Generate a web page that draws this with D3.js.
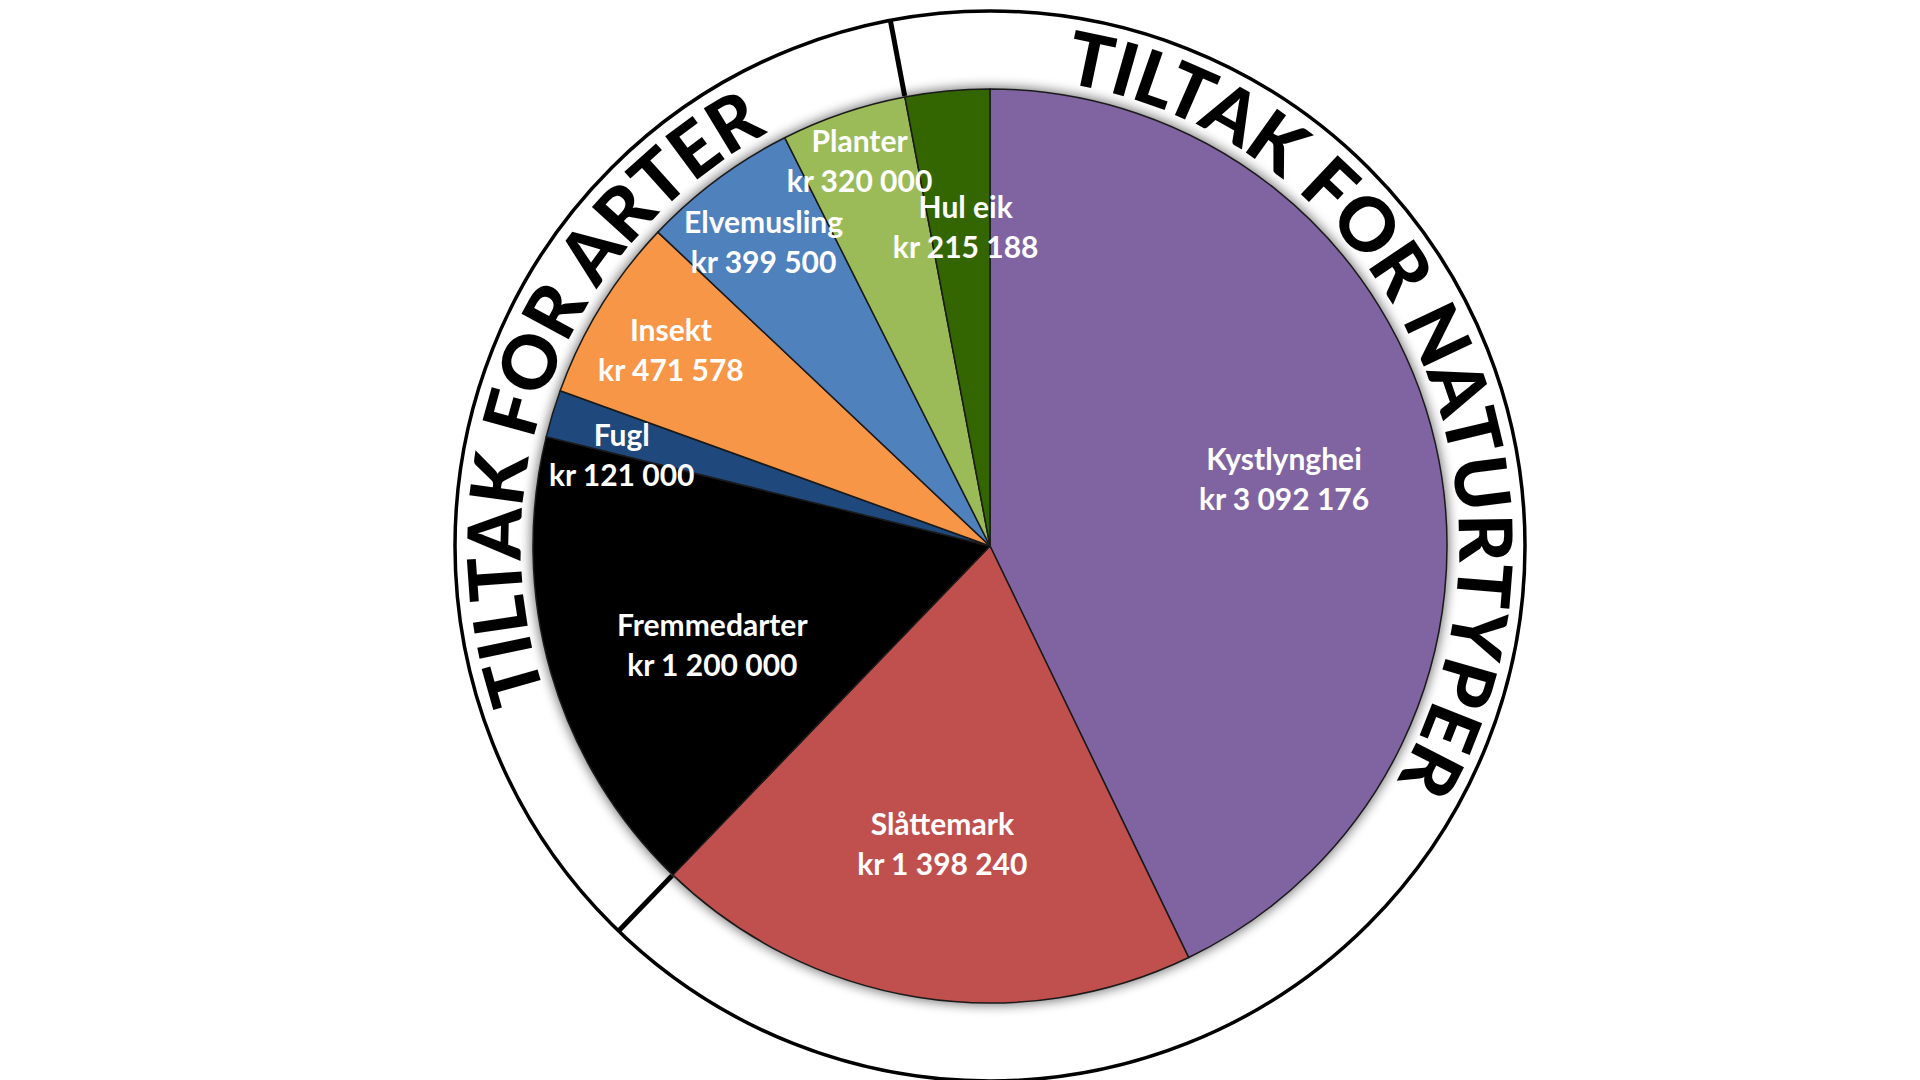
<!DOCTYPE html>
<html>
<head>
<meta charset="utf-8">
<script src="https://cdnjs.cloudflare.com/ajax/libs/d3/7.8.5/d3.min.js"></script>
<style>
    body { margin: 0; background: #ffffff; }
    #chart svg { display: block; }
    .slice-label { font-family: Lato, "Open Sans", sans-serif; font-weight: bold; fill: #ffffff; }
    .ring-title { font-family: Lato, "Open Sans", sans-serif; font-weight: 900; fill: #000000; }
</style>
</head>
<body>
<div id="chart"></div>
<script>

// data (clockwise from 12 o'clock)
var categories = ["Kystlynghei", "Slåttemark", "Fremmedarter", "Fugl", "Insekt", "Elvemusling", "Planter", "Hul eik"];
var amounts = [3092176, 1398240, 1200000, 121000, 471578, 399500, 320000, 215188];
var groups = ["Naturtyper", "Naturtyper", "Arter", "Arter", "Arter", "Arter", "Arter", "Naturtyper"];

var titleGroups = ["Naturtyper", "Arter"];
var titleTexts = ["TILTAK FOR NATURTYPER", "TILTAK FOR ARTER"];


PieChart = function(_parentElement, _categories, _amounts, _groups) {
    this.parentElement = _parentElement;
    this.data = _categories.map(function(c, i) {
        return { name: c, value: _amounts[i], group: _groups[i] };
    });
    this.initVis();
};

PieChart.prototype.initVis = function() {
    var vis = this;

    vis.w = 1920;
    vis.h = 1080;
    vis.cx = 990;
    vis.cy = 546;
    vis.radius = 457;
    vis.ringRadius = 535;
    vis.titleRadius = 469;

    vis.root = d3.select("#" + vis.parentElement).append("svg")
        .attr("width", vis.w)
        .attr("height", vis.h);

    vis.svg = vis.root.append("g")
        .attr("transform", "translate(" + vis.cx + "," + vis.cy + ")");

    // soft glow round the pie
    var defs = vis.root.append("defs");
    defs.append("filter")
        .attr("id", "pieGlow")
        .attr("x", "-20%").attr("y", "-20%")
        .attr("width", "140%").attr("height", "140%")
        .append("feGaussianBlur")
        .attr("stdDeviation", 6);

    // Office 2010 palette, same order as the categories
    vis.color = d3.scaleOrdinal()
        .domain(categories)
        .range(["#8064A2", "#C0504D", "#000000", "#1F497D", "#F79646", "#4F81BD", "#9BBB59", "#336600"]);

    vis.pie = d3.pie().sort(null).value(function(d) { return d.value; });
    vis.arc = d3.arc().innerRadius(0).outerRadius(vis.radius);

    // norwegian money: kr 3 092 176
    var nb = d3.formatLocale({ decimal: ",", thousands: " ", grouping: [3], currency: ["kr ", ""] });
    vis.formatKr = nb.format("$,");

    // how far out each label sits (fraction of radius) and a small angle nudge in degrees
    vis.labelRadius = [0.66, 0.66, 0.645, 0.83, 0.82, 0.83, 0.89, 0.70];
    vis.labelNudge = [0, 0, -3.5, -3, 0, 0, 0, 1];

    // where the ring titles are centred, degrees clockwise from top
    vis.titleAngles = [64.5, 291.5];

    vis.wrangleData();
};

PieChart.prototype.wrangleData = function() {
    var vis = this;

    vis.displayData = vis.pie(vis.data);

    // dividers go where the group changes between two neighbouring slices
    vis.dividers = [];
    vis.displayData.forEach(function(d, i) {
        var next = vis.displayData[(i + 1) % vis.displayData.length];
        if (d.data.group !== next.data.group) {
            vis.dividers.push(d.endAngle);
        }
    });

    vis.drawDiagram();
};

PieChart.prototype.drawDiagram = function() {
    var vis = this;

    // outer ring
    vis.svg.append("circle")
        .attr("r", vis.ringRadius)
        .attr("fill", "none")
        .attr("stroke", "#000")
        .attr("stroke-width", 3.5);

    vis.svg.append("circle")
        .attr("r", vis.radius + 2)
        .attr("fill", "#000")
        .attr("opacity", 0.55)
        .attr("filter", "url(#pieGlow)");

    vis.svg.selectAll(".slice")
        .data(vis.displayData)
        .enter().append("path")
        .attr("class", "slice")
        .attr("d", vis.arc)
        .attr("fill", function(d) { return vis.color(d.data.name); })
        .attr("stroke", "#1a1a1a")
        .attr("stroke-width", 1.5)
        .attr("stroke-linejoin", "round");

    vis.svg.selectAll(".divider")
        .data(vis.dividers)
        .enter().append("line")
        .attr("class", "divider")
        .attr("x1", function(a) { return (vis.radius + 1) * Math.sin(a); })
        .attr("y1", function(a) { return -(vis.radius + 1) * Math.cos(a); })
        .attr("x2", function(a) { return vis.ringRadius * Math.sin(a); })
        .attr("y2", function(a) { return -vis.ringRadius * Math.cos(a); })
        .attr("stroke", "#000")
        .attr("stroke-width", 5);

    // labels
    var labels = vis.svg.selectAll(".label")
        .data(vis.displayData)
        .enter().append("g")
        .attr("class", "label")
        .attr("transform", function(d, i) {
            var a = (d.startAngle + d.endAngle) / 2 + vis.labelNudge[i] * Math.PI / 180;
            var r = vis.radius * vis.labelRadius[i];
            return "translate(" + (r * Math.sin(a)) + "," + (-r * Math.cos(a)) + ")";
        });

    labels.append("text")
        .attr("class", "slice-label")
        .attr("text-anchor", "middle")
        .attr("dominant-baseline", "central")
        .attr("y", -21)
        .style("font-size", "30px")
        .text(function(d) { return d.data.name; });

    labels.append("text")
        .attr("class", "slice-label")
        .attr("text-anchor", "middle")
        .attr("dominant-baseline", "central")
        .attr("y", 19)
        .style("font-size", "30px")
        .text(function(d) { return vis.formatKr(d.data.value); });

    // ring titles on a clockwise circle starting at 12 o'clock
    var r = vis.titleRadius;
    vis.root.select("defs").append("path")
        .attr("id", "titleCircle")
        .attr("d", "M0," + (-r) + " A" + r + "," + r + " 0 1 1 0," + r + " A" + r + "," + r + " 0 1 1 0," + (-r))
        .attr("transform", "translate(" + vis.cx + "," + vis.cy + ")");

    vis.root.selectAll(".ring-title")
        .data(titleTexts)
        .enter().append("text")
        .attr("class", "ring-title")
        .style("font-size", "74px")
        .append("textPath")
        .attr("href", "#titleCircle")
        .attr("text-anchor", "middle")
        .attr("startOffset", function(d, i) { return vis.titleAngles[i] * Math.PI / 180 * r; })
        .text(function(d) { return d; });
};

var chart = new PieChart("chart", categories, amounts, groups);

</script>
</body>
</html>
